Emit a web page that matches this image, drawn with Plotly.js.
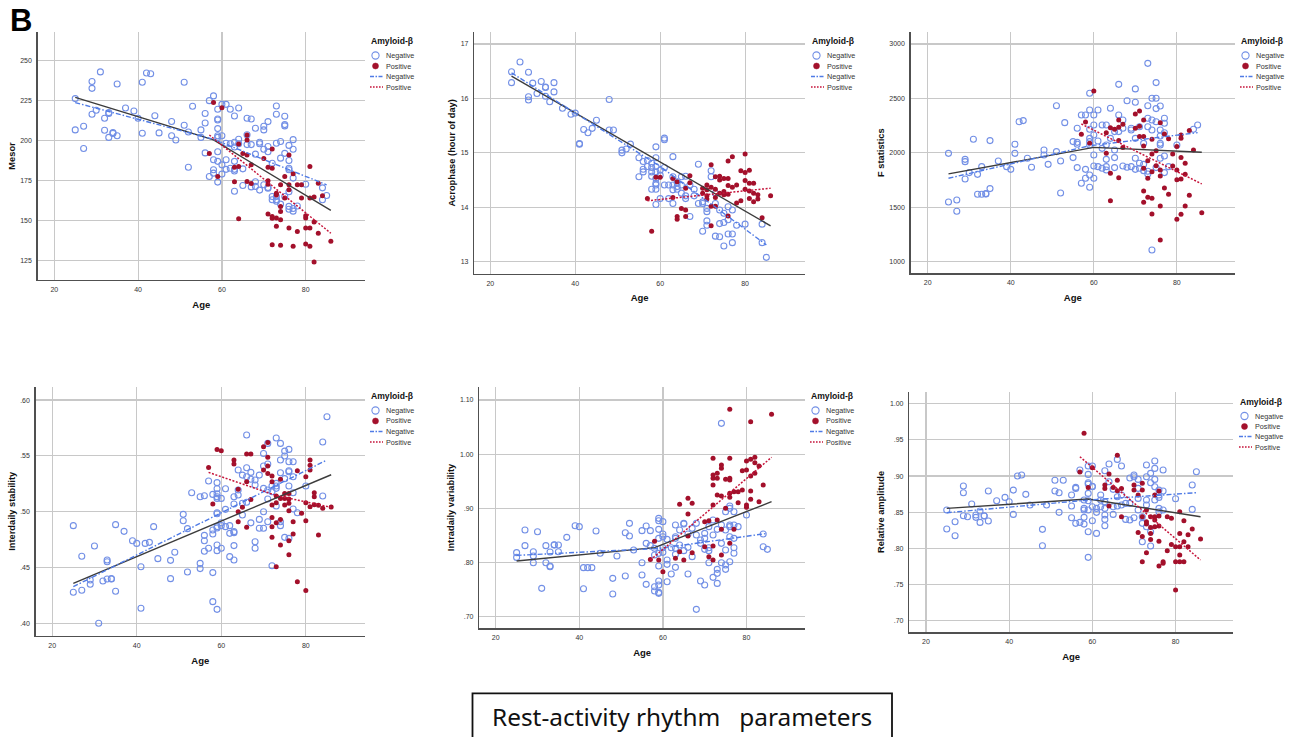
<!DOCTYPE html>
<html><head><meta charset="utf-8">
<script src="https://cdn.plot.ly/plotly-3.0.1.min.js"></script>
<style>html,body{margin:0;padding:0;background:#fff;}#chart{width:1295px;height:737px;}</style>
</head><body><div id="chart"></div>
<script>
// ---------- DATA (age, value) ----------
const ageTicks = [20, 40, 60, 80];
const groupLabels = ['Negative', 'Positive'];
const legendTitle = 'Amyloid-β';
const yTitles = ['Mesor', 'Acrophase (hour of day)', 'F statistics', 'Interdaily stability', 'Intradaily variability', 'Relative amplitude'];

const mesorTicks = [125, 150, 175, 200, 225, 250];
const mesorNegative = [[25,226.3],[25,206.7],[27,209],[27,195],[29,237],[29,232.7],[29,216.5],[30,219],[31,243],[32,214],[32,206.5],[33,217],[33,217.5],[33,202],[34,205],[34,204.5],[35,235.4],[35,203],[37,220.4],[39,218.5],[40,214],[41,236.5],[41,204.6],[42,242.3],[43,241.9],[44,215.6],[45,204.8],[48,212],[48,203],[49,200.4],[51,236.5],[51,209.6],[52,183.3],[52,205.4],[53,221.5],[55,206.7],[55,202],[56,217],[56,211],[56,192.3],[57,225],[57,177.5],[58,228],[58,188],[58,181.7],[58,179.6],[59,219.6],[59,213.5],[59,212.9],[59,207.5],[59,203],[59,202],[59,193],[59,187],[59,174],[60,222.7],[60,203],[60,184.8],[60,179],[61,222.7],[61,198.3],[61,188],[61,182],[62,219.6],[62,198],[62,182.7],[63,215.4],[63,199],[63,196],[63,187],[63,182],[63,181],[63,168.3],[64,220.4],[64,200.8],[64,198],[65,182.3],[65,171.9],[66,214],[66,197.5],[66,203.7],[67,213.5],[67,197.5],[67,171],[68,207.7],[68,191.5],[68,174.2],[68,171.3],[69,199],[69,198],[69,169],[70,209],[70,206.7],[70,194.6],[70,172.3],[71,211.9],[71,196.3],[71,193],[71,170.6],[71,170.2],[72,185.8],[72,165],[72,163],[73,221.7],[73,216.5],[73,198.3],[73,165],[73,163],[73,162],[74,199.4],[74,189],[74,160.2],[75,215.2],[75,210],[75,209.2],[75,192],[75,165],[76,197],[76,187.5],[76,182.7],[76,181.7],[76,168],[76,158.8],[76,157],[77,200.6],[77,194.6],[77,176.5],[77,157.5],[77,155.8],[78,159],[80,172.7],[84,170.4],[84,163],[85,165.6]];
const mesorPositive = [[58,223.8],[60,220.6],[57,191.9],[59,177.5],[63,183.3],[63,174.2],[64,197.9],[64,183.8],[64,151],[65,191.9],[66,203.5],[66,200.4],[66,191],[66,174.4],[67,184.8],[67,173.1],[70,188.8],[71,183.3],[71,174.8],[71,172.7],[71,154],[72,194.8],[72,182.7],[72,152.5],[72,151.3],[72,134.8],[73,167],[73,166],[73,151.5],[73,146.3],[74,172.3],[74,158.8],[74,155.6],[74,150.4],[74,134.4],[75,177.5],[75,164],[76,191],[76,172.3],[76,169.2],[76,145.2],[77,179.2],[77,133.8],[78,172.3],[78,143],[79,172.3],[79,164],[80,152.9],[80,151.5],[80,145.2],[80,135.2],[81,183.8],[81,164],[81,145.2],[81,133.8],[82,164.6],[82,149],[82,124],[83,173.3],[83,142],[84,165.4],[86,136.9]];
const mesorFitTotal = [[25,227.1],[58,200.4],[86,156.3]];
const mesorFitNegative = [[25,223.8],[58,200.8],[85,172.3]];
const mesorFitPositive = [[57,203.5],[86,142]];

const acroTicks = [13, 14, 15, 16, 17];
const acroNegative = [[25,16.49],[25,16.29],[27,16.67],[29,16.48],[29,16.03],[29,15.97],[30,16.28],[31,16.09],[32,16.31],[33,16.2],[33,16.21],[33,16.04],[34,15.94],[35,16.29],[35,16.12],[37,15.82],[39,15.71],[40,15.73],[41,15.17],[41,15.16],[42,15.43],[43,15.37],[44,15.45],[45,15.6],[48,15.98],[48,15.42],[49,15.42],[51,15.05],[51,15.0],[52,15.07],[53,15.16],[55,14.91],[55,14.56],[56,14.84],[56,14.7],[56,14.65],[57,14.86],[57,14.75],[58,14.81],[58,14.73],[58,14.65],[58,14.57],[58,14.33],[59,15.11],[59,14.91],[59,14.75],[59,14.65],[59,14.53],[59,14.44],[59,14.41],[59,14.33],[59,14.05],[60,14.68],[60,14.59],[60,14.16],[61,15.27],[61,15.24],[61,14.73],[61,14.41],[62,14.41],[62,14.16],[63,14.93],[63,14.56],[63,14.41],[63,14.32],[63,14.07],[64,14.45],[64,14.38],[64,14.33],[65,14.56],[65,14.41],[65,14.26],[66,14.57],[66,14.21],[66,14.16],[67,14.41],[67,13.83],[68,14.33],[68,14.21],[69,14.79],[69,14.07],[70,14.1],[70,14.07],[70,13.56],[71,13.98],[71,13.92],[71,13.75],[71,13.67],[72,14.67],[72,14.56],[73,14.26],[73,13.47],[73,14.07],[74,13.95],[74,13.7],[74,13.46],[75,13.89],[75,13.72],[75,13.29],[76,14.01],[76,13.77],[76,13.51],[77,13.95],[77,13.35],[77,13.51],[78,13.67],[80,13.69],[84,13.35],[84,13.69],[85,13.08]];
const acroPositive = [[58,13.56],[57,14.16],[59,14.55],[60,14.55],[63,14.53],[63,14.18],[64,14.47],[64,13.83],[64,13.78],[65,13.98],[66,13.95],[66,13.83],[66,14.35],[67,14.58],[67,14.45],[70,14.35],[70,14.26],[71,14.41],[71,14.32],[71,14.21],[71,14.15],[72,14.78],[72,14.37],[72,14.02],[72,13.66],[73,14.56],[73,14.33],[73,14.18],[73,14.02],[74,14.57],[74,14.5],[74,14.26],[75,14.53],[75,14.29],[75,14.23],[76,14.85],[76,14.53],[76,14.4],[76,14.24],[76,13.84],[77,14.93],[77,14.37],[78,14.41],[78,14.08],[79,14.67],[79,14.12],[80,14.98],[80,14.64],[80,14.49],[80,14.33],[81,14.68],[81,14.44],[81,14.3],[81,14.16],[82,14.44],[82,14.26],[82,14.1],[83,14.23],[83,14.15],[84,13.81],[86,14.21]];
const acroFitTotal = [[25,16.41],[86,13.66]];
const acroFitNegative = [[25,16.47],[60,14.75],[85,13.31]];
const acroFitPositive = [[57,14.12],[86,14.35]];

const fstatTicks = [1000, 1500, 2000, 2500, 3000];
const fstatNegative = [[25,1995],[25,1548],[27,1567],[27,1463],[29,1940],[29,1919],[29,1760],[30,1818],[31,2124],[32,1802],[32,1619],[33,1873],[33,1619],[34,1622],[34,1625],[35,2112],[35,1671],[37,1925],[39,1873],[40,1848],[41,2078],[41,1995],[42,2286],[43,2296],[44,1950],[45,1867],[48,2026],[48,1980],[49,1894],[51,2433],[51,2011],[52,1925],[52,1631],[53,2277],[55,2103],[55,1956],[56,2225],[56,2096],[56,2078],[56,1864],[57,2348],[57,1720],[58,2348],[58,1848],[58,1766],[59,2547],[59,2394],[59,2216],[59,2133],[59,2103],[59,2072],[59,1796],[59,1683],[60,2348],[60,2256],[60,2164],[60,1980],[60,1879],[60,1766],[61,2394],[61,2109],[61,1873],[62,2256],[62,2041],[62,1858],[63,2256],[63,2072],[63,1940],[63,1873],[63,1842],[64,2409],[64,2133],[65,2195],[65,2026],[65,1956],[65,1864],[66,2629],[66,2348],[66,2195],[67,2302],[67,2225],[67,1879],[68,2479],[68,1867],[69,2225],[69,2210],[69,1873],[70,2587],[70,2464],[70,2133],[70,1950],[70,1848],[71,2240],[71,1904],[71,1858],[72,2087],[72,1894],[72,1836],[73,2822],[73,2433],[73,2317],[73,2240],[73,1830],[73,1806],[74,2501],[74,2302],[74,2210],[74,1107],[75,2645],[75,2501],[75,2406],[75,2286],[75,1864],[76,2430],[76,2210],[76,2155],[76,2087],[76,2072],[76,1950],[77,2317],[77,2271],[77,2185],[77,1971],[77,1818],[78,1873],[80,2072],[84,2216],[85,2256]];
const fstatPositive = [[57,2170],[58,2283],[59,2087],[60,2568],[63,2185],[63,1995],[64,2231],[64,1812],[64,1560],[65,2216],[66,2302],[66,2234],[66,2112],[66,1772],[67,2262],[67,2048],[70,2357],[70,2225],[71,2384],[71,2243],[71,2149],[72,2302],[72,2149],[72,2063],[72,1858],[72,1649],[72,1545],[73,1928],[73,1766],[73,1591],[74,2124],[74,1989],[74,1827],[74,1582],[74,1438],[75,2020],[75,1882],[76,2277],[76,1842],[76,1787],[76,1511],[76,1199],[77,2173],[77,1677],[78,2130],[78,1619],[79,1989],[79,1879],[80,2057],[80,1842],[80,1753],[80,1389],[81,2164],[81,2133],[81,1956],[81,1759],[81,1435],[82,1904],[82,1802],[82,1511],[83,2204],[83,1609],[84,2026],[86,1450]];
const fstatFitTotal = [[25,1806],[60,2050],[86,2005]];
const fstatFitNegative = [[25,1766],[59,2065],[85,2185]];
const fstatFitPositive = [[57,2265],[86,1714]];

const isTicks = [0.40, 0.45, 0.50, 0.55, 0.60];
const isTickText = ['.40', '.45', '.50', '.55', '.60'];
const isNegative = [[25,.4875],[25,.4278],[27,.46],[27,.4296],[29,.4388],[29,.435],[30,.4693],[31,.40],[32,.4379],[33,.4567],[33,.4552],[33,.4397],[34,.4397],[34,.44],[35,.4884],[35,.4287],[37,.4824],[39,.474],[40,.4716],[41,.4507],[41,.4134],[42,.4716],[43,.4725],[44,.4866],[45,.4579],[48,.4564],[48,.44],[49,.4636],[51,.4976],[51,.4919],[52,.4848],[52,.446],[53,.517],[55,.5134],[55,.4537],[55,.449],[56,.5143],[56,.4788],[56,.474],[56,.4645],[57,.5275],[57,.4672],[58,.5155],[58,.4836],[58,.48],[58,.4454],[58,.4194],[59,.526],[59,.5206],[59,.5161],[59,.5134],[59,.5119],[59,.4991],[59,.4982],[59,.4866],[59,.4854],[59,.4701],[59,.4651],[59,.4125],[60,.5119],[60,.4901],[60,.4875],[60,.4672],[61,.5206],[61,.5021],[61,.4866],[62,.4806],[62,.4875],[62,.4597],[63,.5134],[63,.5069],[63,.4821],[63,.4812],[63,.4696],[63,.4567],[64,.5373],[64,.5194],[64,.5149],[65,.5328],[65,.5075],[65,.497],[66,.5687],[66,.5394],[66,.5313],[66,.5084],[67,.5352],[67,.529],[67,.49],[68,.5284],[68,.5239],[68,.4731],[68,.4672],[69,.5328],[69,.4931],[69,.4851],[70,.5522],[70,.5409],[70,.5209],[70,.5],[70,.4851],[71,.5612],[71,.5427],[71,.5194],[71,.5113],[71,.491],[72,.523],[72,.5179],[72,.4516],[73,.566],[73,.5254],[73,.523],[73,.5209],[73,.5051],[74,.5612],[74,.5463],[74,.5349],[74,.491],[74,.4875],[75,.5543],[75,.5499],[75,.5296],[75,.477],[76,.5558],[76,.5448],[76,.5367],[76,.5358],[76,.523],[76,.4761],[77,.5448],[77,.5313],[77,.517],[77,.5024],[78,.4991],[80,.523],[84,.5624],[84,.514],[85,.5851]];
const isPositive = [[57,.5397],[58,.5069],[59,.5558],[60,.5546],[63,.5463],[63,.5427],[64,.52],[64,.5],[64,.491],[65,.5039],[66,.5516],[66,.5269],[66,.486],[67,.5516],[67,.511],[70,.5582],[70,.5373],[71,.5621],[71,.5487],[71,.5409],[71,.5343],[72,.5319],[72,.5269],[72,.506],[72,.4949],[72,.4866],[72,.477],[73,.514],[73,.5081],[73,.4901],[73,.4507],[74,.529],[74,.5119],[74,.4931],[74,.4701],[75,.5164],[75,.5119],[75,.506],[76,.5164],[76,.5113],[76,.5075],[76,.5009],[76,.474],[76,.4615],[77,.491],[77,.48],[78,.5367],[78,.4373],[79,.4985],[80,.5313],[80,.5081],[80,.4919],[80,.4293],[81,.5463],[81,.5415],[81,.5373],[81,.5045],[82,.517],[82,.5134],[82,.5063],[83,.5057],[83,.4791],[84,.503],[86,.5042]];
const isFitTotal = [[25,.4358],[86,.5331]];
const isFitNegative = [[25,.4328],[85,.5463]];
const isFitPositive = [[57,.5352],[73,.5145],[86,.5039]];

const ivTicks = [0.70, 0.80, 0.90, 1.00, 1.10];
const ivTickText = ['.70', '.80', '.90', '1.00', '1.10'];
const ivNegative = [[25,.8182],[25,.8095],[27,.86],[27,.8311],[29,.82],[29,.812],[29,.7997],[30,.8569],[31,.7523],[32,.8311],[32,.7997],[33,.8194],[33,.7935],[33,.7923],[34,.8323],[34,.8326],[35,.8323],[35,.82],[37,.8465],[39,.868],[40,.8662],[41,.7905],[41,.7517],[42,.7905],[43,.7905],[44,.8582],[45,.817],[48,.7708],[48,.7418],[49,.812],[51,.855],[51,.7751],[52,.8723],[52,.8489],[53,.8231],[55,.8588],[55,.7997],[55,.7769],[56,.8674],[56,.8354],[56,.7597],[57,.8588],[57,.8311],[58,.8262],[58,.8138],[58,.7554],[58,.7474],[59,.8815],[59,.8772],[59,.8612],[59,.8446],[59,.8169],[59,.7935],[59,.7658],[59,.7585],[59,.7449],[59,.7431],[60,.8754],[60,.8526],[60,.8477],[60,.8274],[60,.8188],[61,.8428],[61,.8046],[61,.7966],[61,.7646],[62,.8274],[62,.7788],[63,.8692],[63,.8477],[63,.8446],[63,.8262],[63,.8151],[63,.7911],[64,.8323],[64,.86],[65,.8723],[65,.8711],[65,.8219],[66,.8526],[66,.828],[66,.7788],[67,.8631],[67,.8108],[68,.8723],[68,.8508],[68,.7136],[69,.8415],[69,.8354],[69,.7658],[70,.8538],[70,.8446],[70,.8243],[70,.7585],[71,.8662],[71,.8219],[71,.7997],[71,.8274],[72,.8785],[72,.8508],[72,.7726],[73,.8612],[73,.7874],[73,.78],[73,.7615],[74,1.0569],[74,.8692],[74,.8354],[74,.7997],[75,.8938],[75,.86],[75,.8231],[75,.7954],[75,.7874],[76,.9043],[76,.9],[76,.8692],[76,.8662],[76,.8477],[76,.8015],[77,.8938],[77,.8692],[77,.8446],[77,.8274],[77,.817],[78,.8662],[80,.8877],[84,.8526],[84,.8292],[85,.8243]];
const ivPositive = [[57,.8058],[58,.8391],[59,.8046],[60,.7831],[63,.8077],[64,.9074],[64,.82],[65,.8046],[66,.9185],[66,.8895],[66,.8489],[67,.9092],[67,.8182],[70,.8754],[70,.8292],[71,.8772],[71,.8108],[72,.9923],[72,.9615],[72,.9554],[72,.9431],[72,.9062],[72,.8305],[72,.8046],[73,.9646],[73,.9554],[73,.9246],[73,.8785],[74,.98],[74,.9738],[74,.9228],[74,.8612],[74,.8138],[75,.9535],[75,.9],[76,1.0828],[76,.9923],[76,.9554],[76,.9523],[76,.9277],[76,.9203],[76,.8354],[77,.9308],[77,.8612],[78,.9308],[78,.9105],[79,.9695],[79,.934],[80,.9874],[80,.9708],[80,.9062],[80,.9018],[81,1.06],[81,.9905],[81,.9597],[81,.932],[81,.9166],[82,.9942],[82,.9843],[82,.9646],[83,.9782],[83,.9123],[84,.9431],[86,1.0735]];
const ivFitTotal = [[25,.8028],[58,.8274],[86,.9123]];
const ivFitNegative = [[25,.8132],[59,.826],[85,.8538]];
const ivFitPositive = [[57,.8046],[86,.9942]];

const raTicks = [0.70, 0.75, 0.80, 0.85, 0.90, 0.95, 1.00];
const raTickText = ['.70', '.75', '.80', '.85', '.90', '.95', '1.00'];
const raNegative = [[25,.853],[25,.8267],[27,.8369],[27,.8175],[29,.8862],[29,.877],[29,.8452],[30,.8438],[31,.8613],[32,.8461],[32,.8429],[33,.8516],[33,.8359],[34,.8447],[34,.845],[35,.8793],[35,.8378],[37,.8659],[39,.8705],[40,.8645],[41,.8806],[41,.847],[42,.9],[43,.9014],[44,.8747],[45,.8599],[48,.8263],[48,.8037],[49,.8599],[51,.8941],[51,.8793],[52,.877],[52,.8498],[53,.8941],[55,.8737],[55,.8585],[55,.8424],[56,.8843],[56,.8829],[56,.8346],[57,.9083],[57,.8359],[58,.8668],[58,.8553],[58,.853],[58,.8429],[58,.8336],[59,.9138],[59,.9023],[59,.8908],[59,.8889],[59,.876],[59,.8659],[59,.853],[59,.823],[59,.7876],[60,.9138],[60,.8853],[60,.8858],[60,.8576],[60,.8382],[61,.8553],[61,.8498],[61,.8207],[62,.8737],[62,.8668],[62,.8576],[63,.9074],[63,.8645],[63,.8553],[63,.8461],[63,.8401],[63,.8313],[64,.9166],[64,.8922],[65,.8816],[65,.8576],[65,.847],[66,.923],[66,.8714],[66,.8585],[67,.9138],[67,.8737],[67,.8599],[68,.8622],[68,.8401],[69,.8973],[69,.8622],[69,.8392],[70,.9014],[70,.8991],[70,.8424],[71,.8954],[71,.8829],[71,.8691],[71,.853],[72,.8438],[72,.8346],[72,.8092],[73,.9152],[73,.8991],[73,.8668],[73,.8599],[73,.83],[74,.9037],[74,.8908],[74,.823],[74,.8032],[75,.9207],[75,.9106],[75,.8954],[75,.8853],[75,.8668],[76,.8806],[76,.8737],[76,.8705],[76,.8553],[76,.8507],[77,.9083],[77,.8793],[77,.853],[80,.8687],[84,.8876],[84,.8539],[85,.906]];
const raPositive = [[57,.9055],[58,.959],[59,.8843],[60,.9115],[63,.8876],[63,.8829],[64,.9028],[64,.8585],[65,.8843],[66,.9286],[66,.8941],[66,.8797],[67,.8829],[67,.8438],[70,.8876],[70,.8806],[71,.8737],[71,.8221],[72,.8899],[72,.8806],[72,.8438],[72,.8166],[72,.7816],[73,.853],[73,.8369],[73,.8336],[73,.794],[74,.8438],[74,.829],[74,.8207],[74,.8124],[75,.8737],[75,.8438],[75,.8392],[75,.83],[76,.8793],[76,.8447],[76,.8309],[76,.8097],[76,.7756],[77,.7816],[77,.7793],[78,.8438],[78,.7968],[79,.8415],[79,.8055],[80,.8023],[80,.7816],[80,.7424],[81,.8507],[81,.8207],[81,.8023],[81,.7908],[81,.7816],[82,.8382],[82,.8092],[82,.7816],[83,.8189],[83,.8023],[84,.8267],[86,.8129]];
const raFitTotal = [[25,.8553],[59,.8682],[86,.8438]];
const raFitNegative = [[25,.8493],[59,.8668],[85,.877]];
const raFitPositive = [[57,.9267],[86,.7839]];

// ---------- LAYOUT (pixel geometry, styles) ----------
const W = 1295, H = 737;
const NEG_COLOR = '#7390e6', POS_COLOR = '#a3102b';
const NEG_LINE = '#4f7be6', POS_LINE = '#c6163c', TOTAL_LINE = '#3c3c3c';

const panels = [
  {neg: mesorNegative, pos: mesorPositive, fits: [mesorFitTotal, mesorFitNegative, mesorFitPositive], ticks: mesorTicks, tickText: null,
   box: [37.7, 365, 32, 280], xr: [16.04, 94.15], yr: [112.7, 268], leg: [369, 41, 55.5, 66, 76.5, 87]},
  {neg: acroNegative, pos: acroPositive, fits: [acroFitTotal, acroFitNegative, acroFitPositive], ticks: acroTicks, tickText: null,
   box: [474.3, 805, 32, 273.7], xr: [16.24, 94.1], yr: [12.78, 17.22], leg: [810, 41, 55.5, 66, 76.5, 87]},
  {neg: fstatNegative, pos: fstatPositive, fits: [fstatFitTotal, fstatFitNegative, fstatFitPositive], ticks: fstatTicks, tickText: null,
   box: [910.7, 1235, 32, 273.3], xr: [15.9, 94], yr: [893, 3110], leg: [1239, 41, 55.5, 66, 76.5, 87]},
  {neg: isNegative, pos: isPositive, fits: [isFitTotal, isFitNegative, isFitPositive], ticks: isTicks, tickText: isTickText,
   box: [35.7, 365, 386.7, 636], xr: [16.1, 94], yr: [0.3886, 0.612], leg: [369, 396, 410.5, 421, 431.5, 442]},
  {neg: ivNegative, pos: ivPositive, fits: [ivFitTotal, ivFitNegative, ivFitPositive], ticks: ivTicks, tickText: ivTickText,
   box: [479.3, 805, 386.7, 628.3], xr: [16.07, 94], yr: [0.6786, 1.1245], leg: [809, 396, 410.5, 421, 431.5, 442]},
  {neg: raNegative, pos: raPositive, fits: [raFitTotal, raFitNegative, raFitPositive], ticks: raTicks, tickText: raTickText,
   box: [909.3, 1233, 391.7, 632.3], xr: [16, 93.8], yr: [0.684, 1.0166], leg: [1238, 402, 416, 426.5, 436.5, 447]}
];

const traces = [];
const layout = {
  width: W, height: H, margin: {l: 0, r: 0, t: 0, b: 0},
  paper_bgcolor: '#fff', plot_bgcolor: '#fff', showlegend: false,
  font: {family: 'Arial, "Liberation Sans", sans-serif', color: '#222'},
  annotations: [], shapes: []
};
const px = x => x / W, py = y => 1 - y / H;

panels.forEach((p, i) => {
  const n = i === 0 ? '' : String(i + 1);
  const xa = 'x' + n, ya = 'y' + n;
  const markerNeg = {symbol: 'circle-open', size: 6, color: NEG_COLOR, line: {width: 1.1, color: NEG_COLOR}};
  const markerPos = {symbol: 'circle', size: 5, color: POS_COLOR, line: {width: 0}};
  traces.push({type: 'scatter', mode: 'markers', name: groupLabels[0], x: p.neg.map(d => d[0]), y: p.neg.map(d => d[1]), xaxis: xa, yaxis: ya, marker: markerNeg, hoverinfo: 'x+y'});
  traces.push({type: 'scatter', mode: 'markers', name: groupLabels[1], x: p.pos.map(d => d[0]), y: p.pos.map(d => d[1]), xaxis: xa, yaxis: ya, marker: markerPos, hoverinfo: 'x+y'});
  const lineStyles = [
    {color: TOTAL_LINE, width: 1.4, dash: 'solid'},
    {color: NEG_LINE, width: 1.4, dash: '5px,2px,1.5px,2px'},
    {color: POS_LINE, width: 1.5, dash: '2px,1.6px'}
  ];
  const lineNames = ['Total', groupLabels[0], groupLabels[1]];
  p.fits.forEach((f, k) => {
    traces.push({type: 'scatter', mode: 'lines', name: lineNames[k], x: f.map(d => d[0]), y: f.map(d => d[1]), xaxis: xa, yaxis: ya, line: lineStyles[k], hoverinfo: 'skip'});
  });

  const [x0, x1, y0, y1] = p.box;
  layout['xaxis' + n] = {
    domain: [px(x0), px(x1)], anchor: ya, range: p.xr, tickvals: ageTicks, ticks: '',
    showgrid: true, gridcolor: '#c8c8c8', gridwidth: 1.2, zeroline: false,
    showline: true, linecolor: '#505050', linewidth: 1.4,
    tickfont: {size: 7, color: '#333'}, ticklabelstandoff: 2,
    title: {text: 'Age', font: {size: 9.5, color: '#111', weight: 'bold'}, standoff: 9},
    automargin: false, fixedrange: true
  };
  const yax = {
    domain: [py(y1), py(y0)], anchor: xa, range: p.yr, tickvals: p.ticks, ticks: '',
    showgrid: true, gridcolor: '#c8c8c8', gridwidth: 1.2, zeroline: false,
    showline: true, linecolor: '#505050', linewidth: 1.4,
    tickfont: {size: 7, color: '#333'}, ticklabelstandoff: 3,
    title: {text: yTitles[i], font: {size: 9.3, color: '#111', weight: 'bold'}, standoff: 3},
    automargin: false, fixedrange: true
  };
  if (p.tickText) yax.ticktext = p.tickText;
  layout['yaxis' + n] = yax;

  // custom legend (SPSS style)
  const [lx, ty, r1, r2, r3, r4] = p.leg;
  layout.annotations.push({xref: 'paper', yref: 'paper', x: px(lx), y: py(ty), xanchor: 'left', yanchor: 'middle', showarrow: false,
    text: legendTitle, font: {size: 8.6, color: '#111', weight: 'bold'}});
  const rows = [r1, r2, r3, r4];
  const labels = [groupLabels[0], groupLabels[1], groupLabels[0], groupLabels[1]];
  rows.forEach((ry, k) => {
    layout.annotations.push({xref: 'paper', yref: 'paper', x: px(lx + 15), y: py(ry), xanchor: 'left', yanchor: 'middle', showarrow: false,
      text: labels[k], font: {size: 7.2, color: '#333'}});
  });
  const cx = lx + 6.5;
  layout.shapes.push({type: 'circle', xref: 'paper', yref: 'paper', x0: px(cx - 3.6), x1: px(cx + 3.6), y0: py(r1 + 3.6), y1: py(r1 - 3.6),
    line: {color: NEG_COLOR, width: 1.1}, fillcolor: 'rgba(0,0,0,0)'});
  layout.shapes.push({type: 'circle', xref: 'paper', yref: 'paper', x0: px(cx - 3), x1: px(cx + 3), y0: py(r2 + 3), y1: py(r2 - 3),
    line: {color: POS_COLOR, width: 0.5}, fillcolor: POS_COLOR});
  layout.shapes.push({type: 'line', xref: 'paper', yref: 'paper', x0: px(lx + 1), x1: px(lx + 14), y0: py(r3), y1: py(r3),
    line: {color: NEG_LINE, width: 1.3, dash: '4px,1.5px,1.5px,1.5px'}});
  layout.shapes.push({type: 'line', xref: 'paper', yref: 'paper', x0: px(lx + 1), x1: px(lx + 14), y0: py(r4), y1: py(r4),
    line: {color: POS_LINE, width: 1.4, dash: '1.6px,1.4px'}});
});

// Panel letter
layout.annotations.push({xref: 'paper', yref: 'paper', x: px(21), y: py(21), xanchor: 'center', yanchor: 'middle', showarrow: false,
  text: '<b>B</b>', font: {size: 31, color: '#000', family: 'Arial, "Liberation Sans", sans-serif'}});
// Bottom caption box
layout.shapes.push({type: 'rect', xref: 'paper', yref: 'paper', x0: px(472.5), x1: px(892), y0: py(745), y1: py(693.3),
  line: {color: '#111', width: 1.8}, fillcolor: 'rgba(0,0,0,0)'});
layout.annotations.push({xref: 'paper', yref: 'paper', x: px(682), y: py(716), xanchor: 'center', yanchor: 'middle', showarrow: false,
  text: 'Rest-activity rhythm\u00a0\u00a0\u00a0parameters', font: {size: 24.4, color: '#111', family: '"Noto Sans", "Open Sans", sans-serif'}});

Plotly.newPlot('chart', traces, layout, {staticPlot: true, displayModeBar: false});
</script>
</body></html>
